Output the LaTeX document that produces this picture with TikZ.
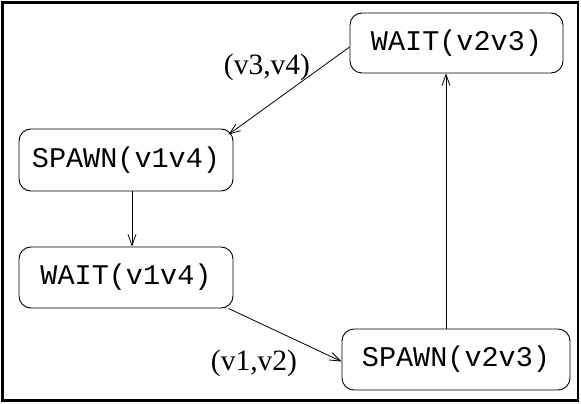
\documentclass[tikz,border=0pt]{standalone}
\usepackage{fontspec}
\setmainfont{Liberation Serif}
\setmonofont{Liberation Mono}
\usetikzlibrary{arrows.meta,calc}
\begin{document}
\begin{tikzpicture}[x=1pt,y=-1pt,
  box/.style={draw, rounded corners=12pt, line width=0.9pt, inner sep=0pt,
    font=\ttfamily\fontsize{28.5}{32}\selectfont},
  lbl/.style={inner sep=0pt, font=\fontsize{29.5}{32}\selectfont},
  arr/.style={-{Straight Barb[length=11pt,width=8pt]}, line width=0.8pt}]
\useasboundingbox (0,0) rectangle (581,404);
\draw[line width=2.5pt] (2.5,2.5) rectangle (578,400.5);
\node[box, minimum width=213pt, minimum height=60pt] (w23) at (456.5,43) {WAIT(v2v3)};
\node[box, minimum width=214pt, minimum height=62pt] (s14) at (126,160) {SPAWN(v1v4)};
\node[box, minimum width=214pt, minimum height=61pt] (w14) at (126,277.5) {WAIT(v1v4)};
\node[box, minimum width=228pt, minimum height=61pt] (s23) at (456,359.5) {SPAWN(v2v3)};
\node[lbl] (l34) at (267,67) {(v3,v4)};
\node[lbl] (l12) at (254,363) {(v1,v2)};
\draw[arr] ([yshift=-4pt]w23.west) -- ($(s14.north east)+(-5,6)$);
\draw[arr] ([xshift=6pt]s14.south) -- ([xshift=6pt]w14.north);
\draw[arr] ([xshift=-5pt]w14.south east) -- ([yshift=-2pt]s23.west);
\draw[arr] ([xshift=-10pt]s23.north) -- ([xshift=-10.5pt]w23.south);
\end{tikzpicture}
\end{document}
